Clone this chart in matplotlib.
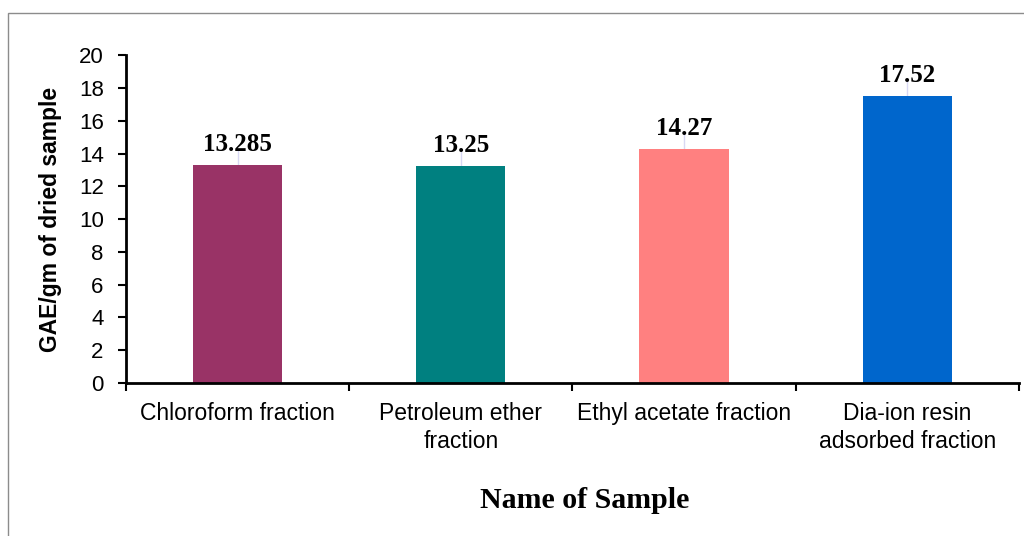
import matplotlib
matplotlib.use("Agg")
import matplotlib.pyplot as plt
import numpy as np
from matplotlib.patches import Rectangle

categories = ["Chloroform fraction", "Petroleum ether\nfraction",
              "Ethyl acetate fraction", "Dia-ion resin\nadsorbed fraction"]
values = [13.285, 13.25, 14.27, 17.52]
errors = [0.95, 0.95, 0.95, 0.95]
labels = ["13.285", "13.25", "14.27", "17.52"]
colors = ["#993366", "#008080", "#FF8080", "#0066CC"]
yticks = [0, 2, 4, 6, 8, 10, 12, 14, 16, 18, 20]

fig = plt.figure(figsize=(10.24, 5.36), dpi=100)
ax = fig.add_axes([0.123, 0.2854, 0.872, 0.6116])

x = np.arange(len(categories))
ax.bar(x, values, width=0.4, color=colors, zorder=2)
ax.errorbar(x, values, yerr=[np.zeros(len(values)), errors], fmt="none",
            ecolor="#d8d8f4", elinewidth=1, capsize=0, zorder=1)

for xi, v, e, lab in zip(x, values, errors, labels):
    ax.annotate(lab, (xi, v + e), xytext=(0, -1), textcoords="offset points",
                ha="center", va="baseline", fontsize=18, fontweight="bold",
                family="Liberation Serif")

ax.set_xlim(-0.5, 3.5)
ax.set_ylim(0, 20)
ax.set_yticks(yticks)
ax.set_yticklabels([str(t) for t in yticks], family="Liberation Sans", fontsize=16)
ax.set_xticks(np.arange(-0.5, 4, 1))
ax.set_xticklabels([])
ax.set_xticks(x, minor=True)
ax.set_xticklabels(categories, minor=True, family="Liberation Sans", fontsize=16.5,
                   linespacing=1.25)
ax.tick_params(axis="x", which="minor", length=0, pad=14)
ax.tick_params(axis="x", which="major", length=6, width=1.5, direction="out")
ax.tick_params(axis="y", length=6, width=1.5, direction="out", pad=10)

for s in ["top", "right"]:
    ax.spines[s].set_visible(False)
for s in ["left", "bottom"]:
    ax.spines[s].set_linewidth(2)

ax.set_ylabel("GAE/gm of dried sample", family="Liberation Sans", fontsize=16.5,
              fontweight="bold", labelpad=12)

fig.text(585 / 1024, 1 - 508 / 536, "Name of Sample", ha="center", va="baseline",
         family="Liberation Serif", fontsize=21.5, fontweight="bold")

fig.patches.append(Rectangle((8 / 1024, -0.1), 1.2, 0.1 + (1 - 13 / 536),
                             transform=fig.transFigure, fill=False,
                             edgecolor="#8c8c8c", linewidth=1))

fig.savefig("out.png", dpi=100)
